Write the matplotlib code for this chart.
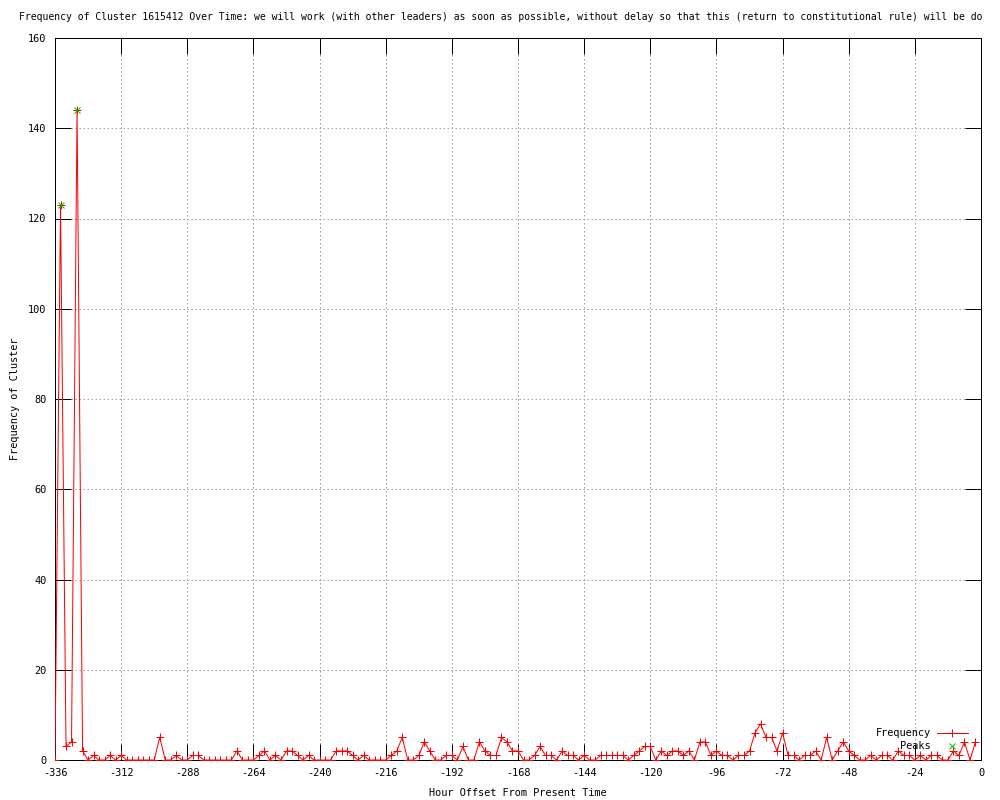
#!/usr/bin/env python3
import matplotlib
matplotlib.use("Agg")
import matplotlib.pyplot as plt
import numpy as np

# hour offsets, one point every two hours
hours = np.arange(-336, 0, 2)
frequency = [
    0, 123, 3, 4, 144, 2, 0, 1, 0, 0,
    1, 0, 1, 0, 0, 0, 0, 0, 0, 5,
    0, 0, 1, 0, 0, 1, 1, 0, 0, 0,
    0, 0, 0, 2, 0, 0, 0, 1, 2, 0,
    1, 0, 2, 2, 1, 0, 1, 0, 0, 0,
    0, 2, 2, 2, 1, 0, 1, 0, 0, 0,
    0, 1, 2, 5, 0, 0, 1, 4, 2, 0,
    0, 1, 1, 0, 3, 0, 0, 4, 2, 1,
    1, 5, 4, 2, 2, 0, 0, 1, 3, 1,
    1, 0, 2, 1, 1, 0, 1, 0, 0, 1,
    1, 1, 1, 1, 0, 1, 2, 3, 3, 0,
    2, 1, 2, 2, 1, 2, 0, 4, 4, 1,
    2, 1, 1, 0, 1, 1, 2, 6, 8, 5,
    5, 2, 6, 1, 1, 0, 1, 1, 2, 0,
    5, 0, 2, 4, 2, 1, 0, 0, 1, 0,
    1, 1, 0, 2, 1, 1, 0, 1, 0, 1,
    1, 0, 0, 2, 1, 4, 0, 4,
]
peak_hours = [-334, -328]
peak_values = [123, 144]

x_ticks = np.arange(-336, 1, 24)
y_ticks = np.arange(0, 161, 20)

# the reference cuts the title off at the right edge
title = ("Frequency of Cluster 1615412 Over Time: we will work (with other leaders) "
         "as soon as possible, without delay so that this (return to constitutional "
         "rule) will be do")

font = {"family": "DejaVu Sans Mono", "size": 7.4}
px = 0.72

fig = plt.figure(figsize=(10, 8), dpi=100)
ax = fig.add_axes([0.055, 0.05, 0.926, 0.9025])

ax.plot(hours, frequency, color="#ff0000", lw=px, marker="+", ms=6,
        mew=px, label="Frequency", zorder=3)
ax.plot(peak_hours, peak_values, ls="none", color="#00c000", marker="x",
        ms=5, mew=px, label="Peaks", zorder=4)

ax.set_xlim(-336, 0)
ax.set_ylim(0, 160)
ax.set_xticks(x_ticks)
ax.set_yticks(y_ticks)
ax.set_xticklabels([str(t) for t in x_ticks], **font)
ax.set_yticklabels([str(t) for t in y_ticks], **font)
ax.tick_params(direction="in", length=11.5, width=px, top=True, right=True,
               pad=6, colors="black")
for s in ax.spines.values():
    s.set_linewidth(px)
ax.grid(True, color="#a0a0a0", lw=px, linestyle=(0, (1.5, 2.5)))

ax.set_xlabel("Hour Offset From Present Time", labelpad=7, **font)
ax.set_ylabel("Frequency of Cluster", labelpad=6, **font)
fig.text(0.019, 0.979, title, ha="left", va="center",
         family="DejaVu Sans Mono", size=7.05)

ax.legend(loc="lower right", bbox_to_anchor=(0.995, 0.0), frameon=False,
          markerfirst=False, numpoints=1, handlelength=3.0, handletextpad=0.6,
          borderaxespad=0.45, labelspacing=0.3,
          prop={"family": "DejaVu Sans Mono", "size": 7.4})

fig.savefig("out.png", dpi=100)
